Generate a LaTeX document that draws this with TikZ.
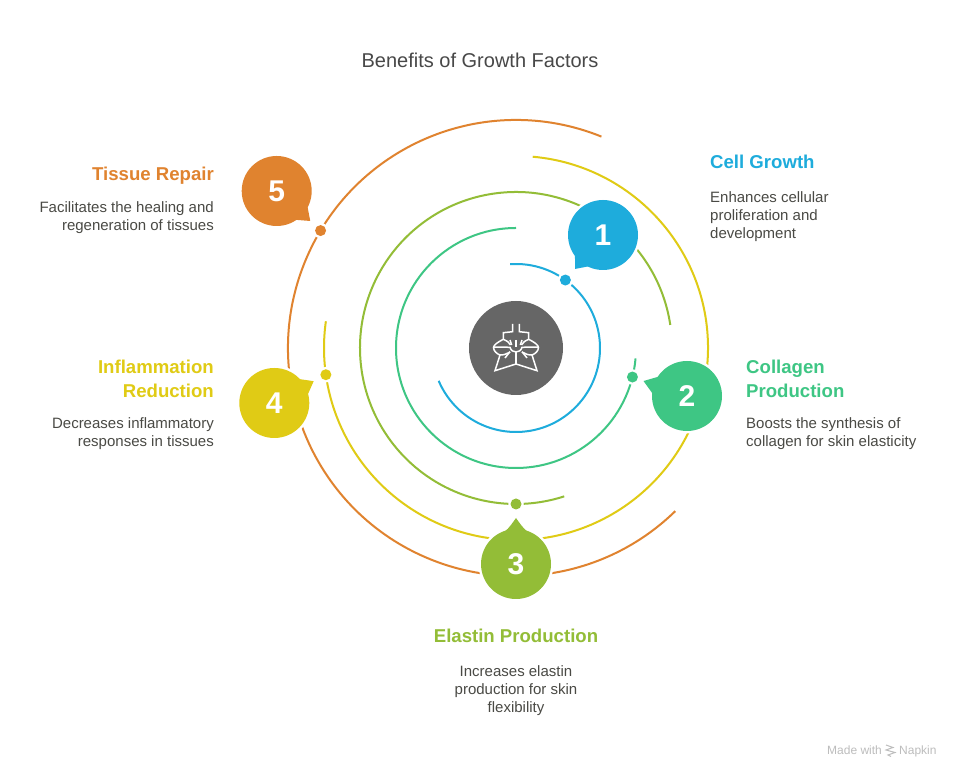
\documentclass[tikz,border=0pt]{standalone}
\usepackage{fontspec}
\setmainfont{Liberation Sans}
\usetikzlibrary{calc}
\definecolor{cblue}{HTML}{1EACDC}
\definecolor{cgreen}{HTML}{3EC684}
\definecolor{colive}{HTML}{93BD37}
\definecolor{cyellow}{HTML}{E0CB15}
\definecolor{corange}{HTML}{E0832F}
\definecolor{chub}{HTML}{666666}
\definecolor{ctitle}{HTML}{484848}
\definecolor{cbody}{HTML}{4A4A45}
\definecolor{cmark}{HTML}{BDBDBD}
\tikzset{
  ringline/.style={line width=2pt,line cap=butt},
  hubnode/.style={circle,fill=chub,minimum size=94pt,inner sep=0pt},
  numnode/.style={circle,minimum size=70pt,inner sep=0pt,text=white,font=\fontsize{30}{34}\selectfont\bfseries},
  dotnode/.style={circle,minimum size=11pt,inner sep=0pt},
  halonode/.style={circle,fill=white,minimum size=15.5pt,inner sep=0pt},
  titletext/.style={inner sep=0pt,text=ctitle,font=\fontsize{20}{24}\selectfont},
  headtext/.style={inner sep=0pt,font=\fontsize{18.6}{24}\selectfont\bfseries},
  bodytext/.style={inner sep=0pt,text=cbody,font=\fontsize{15}{18}\selectfont},
  iconline/.style={draw=white,line width=1.5pt,line join=miter},
  marktext/.style={inner sep=0pt,text=cmark,font=\fontsize{12}{14}\selectfont}
}
\newcommand{\ringarc}[4]{\draw[ringline,#1] ($(c)+(#2:#4pt)$) arc[start angle=#2,end angle=#3,radius=#4pt];}
\newcommand{\ringdot}[4]{%
  \node[halonode] at ($(c)+(#2:#3pt)$) {};
  \node[dotnode,fill=#1] (#4) at ($(c)+(#2:#3pt)$) {};}
% straight-sided tail for bubbles 1, 2, 4, 5
\newcommand{\tailpath}[3]{($(#1)+(#2+16:34pt)$) -- ($(#1)+(#2:#3pt)$) -- ($(#1)+(#2-16:34pt)$) -- cycle}
% concave tail for bubble 3
\newcommand{\tailcurve}[3]{($(#1)+(#2+20:34pt)$) .. controls ($(#1)+(#2+10:37pt)$) and ($(#1)+(#2+4:#3pt-4pt)$) .. ($(#1)+(#2:#3pt)$) .. controls ($(#1)+(#2-4:#3pt-4pt)$) and ($(#1)+(#2-10:37pt)$) .. ($(#1)+(#2-20:34pt)$) -- cycle}
\newcommand{\bubble}[8][\tailpath]{%
  \coordinate (#2c) at (#3,778-#4);
  \fill[white] (#2c) circle (37.5pt);
  \filldraw[white,line width=5pt,line join=round] #1{#2c}{#5}{#8};
  \fill[#6] #1{#2c}{#5}{#8};
  \node[numnode,fill=#6] (#2) at (#2c) {#7};}
\begin{document}
\begin{tikzpicture}[x=1pt,y=1pt]
\useasboundingbox (0,0) rectangle (960,778);
\fill[white] (0,0) rectangle (960,778);
\coordinate (c) at (516,430);

\node[titletext] (title) at (480,778-60) {Benefits of Growth Factors};

% rings
\ringarc{cblue}{94}{-157}{84}
\ringarc{cgreen}{90}{355}{120}
\ringarc{colive}{8.5}{288}{156}
\ringarc{cyellow}{85}{-188}{192}
\ringarc{corange}{68}{314.3}{228}

% dots
\ringdot{cblue}{54}{84}{d1}
\ringdot{cgreen}{-14}{120}{d2}
\ringdot{colive}{-90}{156}{d3}
\ringdot{cyellow}{188}{192}{d4}
\ringdot{corange}{149}{228}{d5}

% bubbles
\bubble{b1}{603}{235}{230.5}{cblue}{1}{44}
\bubble{b2}{687}{396}{161}{cgreen}{2}{46}
\bubble[\tailcurve]{b3}{516}{564}{90}{colive}{3}{46}
\bubble{b4}{274.3}{403}{29}{cyellow}{4}{45}
\bubble{b5}{276.7}{191}{-41.8}{corange}{5}{45}

% hub and icon
\node[hubnode] (hub) at (c) {};
\foreach \sx in {1,-1}{
\begin{scope}[shift={(c)},xscale=\sx]
  \draw[iconline] (-3.3,24) -- (-3.3,16.3) -- (-12.7,15.3) -- (-12.7,8.7)
     .. controls (-18,6) and (-22.5,3) .. (-22.5,0.5)
     .. controls (-22.5,-3) and (-19,-6) .. (-16,-7) -- (-21,-22.7) -- (0,-16);
  \draw[iconline] (-12.7,8.7) .. controls (-9,7) and (-7,6) .. (-5.5,3);
  \draw[iconline] (-22.5,1) -- (-6,0.7) .. controls (-5,-2.5) and (-3,-4) .. (0,-4);
  \draw[iconline] (-16,-7) .. controls (-12,-7) and (-9,-6) .. (-6,-4);
  \draw[iconline] (-6,-3.7) -- (-11,-10);
  \draw[iconline] (-6,8) -- (-4.3,3);
\end{scope}}
\begin{scope}[shift={(c)}]
  \draw[iconline] (0,8) -- (0,1.3);
  \draw[iconline] (0,-4) -- (0,-16);
\end{scope}

% labels 1
\node[headtext,text=cblue,anchor=base west] (h1) at (710,778-169) {Cell Growth};
\node[bodytext,anchor=north west,align=left] (t1) at (710,790.6-202.5) {\strut Enhances cellular\\proliferation and\\development};
% labels 2
\node[headtext,text=cgreen,anchor=north west,align=left] (h2) at (746,794.8-373) {\strut Collagen\\Production};
\node[bodytext,anchor=north west,align=left] (t2) at (746,790.6-428) {\strut Boosts the synthesis of\\collagen for skin elasticity};
% labels 3
\node[headtext,text=colive,anchor=base] (h3) at (516,778-642.5) {Elastin Production};
\node[bodytext,anchor=north,align=center] (t3) at (516,790.6-676) {\strut Increases elastin\\production for skin\\flexibility};
% labels 4
\node[headtext,text=cyellow,anchor=north east,align=right] (h4) at (214,794.8-373) {\strut Inflammation\\Reduction};
\node[bodytext,anchor=north east,align=right] (t4) at (214,790.6-428) {\strut Decreases inflammatory\\responses in tissues};
% labels 5
\node[headtext,text=corange,anchor=base east] (h5) at (214,778-181) {Tissue Repair};
\node[bodytext,anchor=north east,align=right] (t5) at (214,790.6-212) {\strut Facilitates the healing and\\regeneration of tissues};

% watermark
\node[marktext,anchor=base west] (m1) at (827,778-755) {Made with};
\node[marktext,anchor=base west] (m2) at (899,778-755) {Napkin};
\draw[cmark,line width=1pt] (886,778-745) -- (893,778-747.5) -- (886,778-750) -- (895,778-752.5) -- (888,778-755) -- (891,778-756.5);
\end{tikzpicture}
\end{document}
